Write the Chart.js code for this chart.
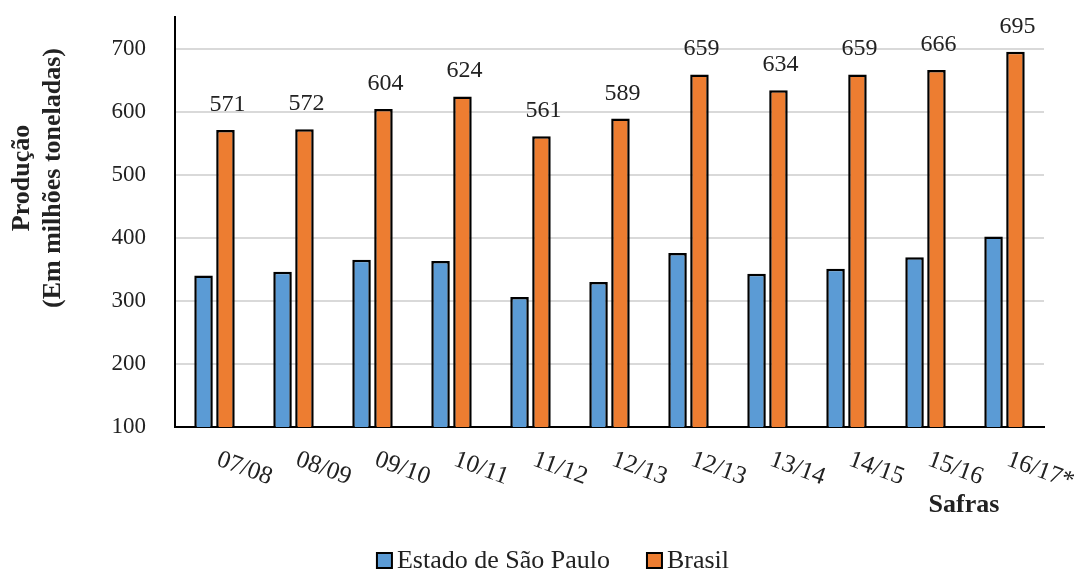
<!DOCTYPE html>
<html>
<head>
<meta charset="utf-8">
<title>Produção de cana-de-açúcar por safra</title>
<script src="https://cdn.jsdelivr.net/npm/chart.js@4.4.1/dist/chart.umd.min.js"></script>
<style>
  html, body { margin: 0; padding: 0; background: #ffffff; }
  #wrap { width: 1077px; height: 571px; }
</style>
</head>
<body>
<div id="wrap"><canvas id="c" width="1077" height="571"></canvas></div>
<script>
// Safras (harvest seasons)
const categories = ['07/08', '08/09', '09/10', '10/11', '11/12', '12/13', '12/13', '13/14', '14/15', '15/16', '16/17*'];
// Produção em milhões de toneladas
const saoPaulo = [340, 346, 365, 363, 306, 330, 376, 343, 351, 369, 402];
const brasil = [571, 572, 604, 624, 561, 589, 659, 634, 659, 666, 695];
const seriesNames = ['Estado de São Paulo', 'Brasil'];
const yTitleLines = ['Produção', '(Em milhões toneladas)'];
const xTitle = 'Safras';

const SERIF = "'Liberation Serif', 'Times New Roman', serif";
const TEXT = '#222222';
const BLUE = '#5B9BD5';
const ORANGE = '#ED7D31';

// Value labels above the Brasil bars, rotated category labels, titles and legend
const decorations = {
  id: 'decorations',
  afterDatasetsDraw(chart) {
    const ctx = chart.ctx;
    const area = chart.chartArea;
    const x = chart.scales.x;

    // values over the Brasil bars
    const meta = chart.getDatasetMeta(1);
    ctx.save();
    ctx.fillStyle = TEXT;
    ctx.font = '24px ' + SERIF;
    ctx.textAlign = 'center';
    ctx.textBaseline = 'alphabetic';
    meta.data.forEach((bar, i) => {
      ctx.fillText(String(brasil[i]), bar.x + 2, bar.y - 19);
    });
    ctx.restore();

    // slanted category labels
    ctx.save();
    ctx.fillStyle = TEXT;
    ctx.font = '25px ' + SERIF;
    ctx.textAlign = 'left';
    ctx.textBaseline = 'alphabetic';
    categories.forEach((lab, i) => {
      const px = x.getPixelForTick(i);
      ctx.save();
      ctx.translate(px + 1, area.bottom + 38);
      ctx.rotate(20 * Math.PI / 180);
      ctx.fillText(lab, 0, 0);
      ctx.restore();
    });
    ctx.restore();

    // x axis title
    ctx.save();
    ctx.fillStyle = TEXT;
    ctx.font = 'bold 26px ' + SERIF;
    ctx.textAlign = 'center';
    ctx.textBaseline = 'alphabetic';
    ctx.fillText(xTitle, area.right - 80, area.bottom + 85);
    ctx.restore();

    // y axis title (two lines, rotated)
    ctx.save();
    ctx.fillStyle = TEXT;
    ctx.font = 'bold 26px ' + SERIF;
    ctx.textAlign = 'center';
    ctx.textBaseline = 'alphabetic';
    const baselines = [29, 60];
    yTitleLines.forEach((line, i) => {
      ctx.save();
      ctx.translate(baselines[i], 178);
      ctx.rotate(-Math.PI / 2);
      ctx.fillText(line, 0, 0);
      ctx.restore();
    });
    ctx.restore();

    // legend
    ctx.save();
    ctx.font = '26px ' + SERIF;
    ctx.textBaseline = 'alphabetic';
    ctx.textAlign = 'left';
    const box = 15, boxGap = 5, itemGap = 37;
    const colors = [BLUE, ORANGE];
    const widths = seriesNames.map(n => ctx.measureText(n).width);
    let total = 0;
    widths.forEach((w, i) => { total += box + boxGap + w + (i ? itemGap : 0); });
    let lx = 553 - total / 2;
    const baseY = 568;
    seriesNames.forEach((name, i) => {
      ctx.fillStyle = colors[i];
      ctx.fillRect(lx, baseY - 15, box, box);
      ctx.lineWidth = 2;
      ctx.strokeStyle = '#000000';
      ctx.strokeRect(lx, baseY - 15, box, box);
      ctx.fillStyle = TEXT;
      ctx.fillText(name, lx + box + boxGap, baseY);
      lx += box + boxGap + widths[i] + itemGap;
    });
    ctx.restore();
  }
};

new Chart(document.getElementById('c'), {
  type: 'bar',
  data: {
    labels: categories,
    datasets: [
      {
        label: seriesNames[0],
        data: saoPaulo,
        backgroundColor: BLUE,
        borderColor: '#000000',
        borderWidth: 2.5,
        categoryPercentage: 0.555,
        barPercentage: 0.845
      },
      {
        label: seriesNames[1],
        data: brasil,
        backgroundColor: ORANGE,
        borderColor: '#000000',
        borderWidth: 2.5,
        categoryPercentage: 0.555,
        barPercentage: 0.845
      }
    ]
  },
  options: {
    responsive: false,
    animation: false,
    devicePixelRatio: 1,
    layout: { padding: { left: 0, right: 33, top: 17, bottom: 0 } },
    plugins: {
      legend: { display: false },
      tooltip: { enabled: false },
      title: { display: false }
    },
    scales: {
      x: {
        grid: { display: false, drawTicks: false },
        border: { display: true, color: '#000000', width: 2 },
        ticks: { display: false },
        afterFit(scale) {
          scale.height = 144;
          scale.paddingLeft = 0;
          scale.paddingRight = 0;
        }
      },
      y: {
        min: 100,
        max: 750,
        grid: { color: '#d9d9d9', lineWidth: 2, drawTicks: false },
        border: { display: true, color: '#000000', width: 2 },
        ticks: {
          stepSize: 100,
          includeBounds: false,
          padding: 29,
          color: TEXT,
          font: { family: SERIF, size: 23 }
        },
        afterFit(scale) {
          scale.width = 175;
          scale.paddingTop = 0;
          scale.paddingBottom = 0;
        }
      }
    }
  },
  plugins: [decorations]
});
</script>
</body>
</html>
